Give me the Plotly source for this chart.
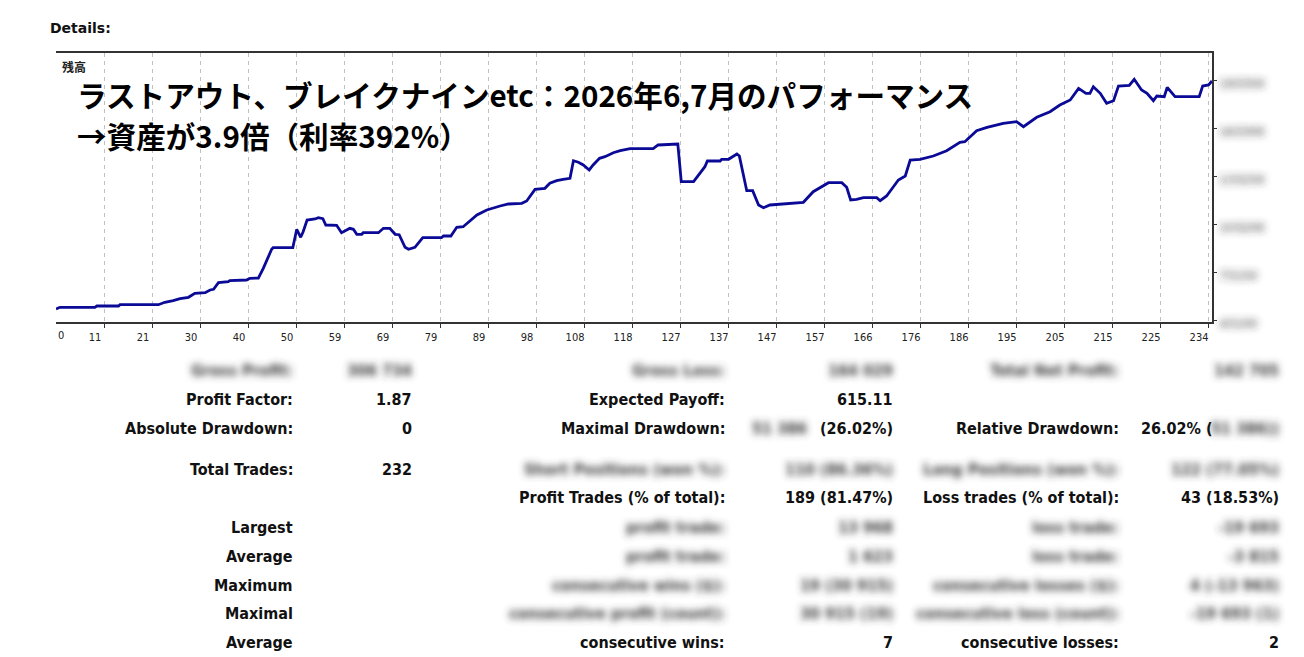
import plotly.graph_objects as go

# balance curve (trade number, balance)
trade_no = [0.0, 0.8, 7.9, 8.3, 12.7, 13.0, 20.8, 22.1, 23.8, 25.2,
            26.9, 28.2, 30.3, 31.3, 32.0, 33.0, 35.0, 35.3, 38.7, 39.4,
            41.1, 42.1, 43.8, 44.1, 48.1, 48.5, 48.9, 49.7, 50.2, 51.0,
            52.6, 53.3, 54.2, 54.8, 57.0, 58.0, 59.7, 60.4, 61.1, 62.1,
            62.4, 65.5, 66.5, 67.8, 68.9, 69.7, 70.9, 71.6, 72.9, 74.5,
            78.3, 78.7, 80.2, 81.4, 82.7, 85.5, 87.5, 90.2, 91.9, 94.6,
            95.6, 97.3, 99.3, 100.3, 101.7, 103.0, 104.4, 105.1, 106.1, 107.1,
            108.3, 109.1, 110.4, 111.5, 113.2, 114.6, 116.6, 121.3, 122.3, 126.3,
            127.0, 129.5, 131.8, 132.3, 134.9, 135.2, 136.6, 138.3, 138.8, 140.3,
            141.5, 142.7, 143.7, 145.0, 151.8, 153.8, 155.9, 156.9, 159.6, 160.6,
            161.4, 162.6, 164.0, 166.7, 167.4, 168.7, 171.1, 172.5, 173.5, 175.5,
            178.2, 180.9, 183.6, 184.6, 187.0, 189.1, 192.4, 195.1, 196.5, 199.2,
            201.9, 203.9, 206.0, 207.7, 209.2, 210.0, 210.7, 212.1, 213.4, 214.8,
            215.8, 218.0, 219.0, 220.5, 221.6, 222.9, 223.6, 225.1, 225.7, 227.3,
            232.2, 232.9, 234.1, 234.8]
balance = [50000, 51050, 51050, 51860, 51860, 52680, 52680, 54180, 55180, 56430,
           57310, 59820, 60190, 61880, 62320, 66450, 67080, 67700, 68140, 69210,
           69390, 75470, 87360, 88360, 88360, 95250, 99880, 94870, 98380, 105700,
           106330, 107140, 106520, 102570, 102390, 97750, 100510, 99880, 96750, 96750,
           97750, 97750, 100510, 100510, 96750, 96500, 88610, 87360, 88610, 94620,
           94620, 95690, 95690, 101130, 101510, 108830, 111960, 114470, 115720, 116160,
           117600, 124920, 125550, 128680, 130310, 131180, 131810, 142830, 141830, 140140,
           137010, 140140, 144330, 145330, 147840, 149090, 150340, 150340, 152660, 153280,
           129680, 129680, 139070, 142640, 142640, 143710, 143710, 147020, 145770, 124050,
           124050, 115100, 113400, 115100, 116790, 123420, 127620, 129060, 129060, 126180,
           118230, 118660, 119670, 119670, 117790, 120730, 130750, 133250, 143270, 143710,
           145770, 149090, 154350, 154720, 161610, 163740, 166240, 167240, 164110, 170000,
           173500, 177700, 180830, 188150, 185020, 185020, 189160, 185020, 178760, 180390,
           189590, 190030, 193790, 187090, 185020, 180390, 183330, 182900, 188780, 182900,
           182900, 189590, 190220, 192705]

x_tick_text = ["11", "21", "30", "40", "50", "59", "69", "79", "89", "98", "108", "118",
               "127", "137", "147", "157", "166", "176", "186", "195", "205", "215", "225", "234"]
y_tick_vals = [43100, 73150, 103200, 133250, 163300, 193350]

title_1 = "ラストアウト、ブレイクナインetc：2026年6,7月のパフォーマンス"
title_2 = "→資産が3.9倍（利率392%）"

# report table
col1_labels = ["Gross Profit:", "Profit Factor:", "Absolute Drawdown:", "Total Trades:", "",
               "Largest", "Average", "Maximum", "Maximal", "Average"]
col1_values = ["306 734", "1.87", "0", "232", "", "", "", "", "", ""]
col2_labels = ["Gross Loss:", "Expected Payoff:", "Maximal Drawdown:", "Short Positions (won %):",
               "Profit Trades (% of total):", "profit trade:", "profit trade:",
               "consecutive wins ($):", "consecutive profit (count):", "consecutive wins:"]
col2_values = ["164 029", "615.11", "51 386 (26.02%)", "110 (86.36%)", "189 (81.47%)",
               "13 968", "1 623", "19 (30 915)", "30 915 (19)", "7"]
col3_labels = ["Total Net Profit:", "", "Relative Drawdown:", "Long Positions (won %):",
               "Loss trades (% of total):", "loss trade:", "loss trade:",
               "consecutive losses ($):", "consecutive loss (count):", "consecutive losses:"]
col3_values = ["142 705", "", "26.02% (51 386)", "122 (77.05%)", "43 (18.53%)",
               "-19 693", "-3 815", "4 (-13 963)", "-19 693 (1)", "2"]
blurred_rows = [0, 3, 5, 6, 7, 8]   # rows hidden in the screenshot (cols 2 and 3)

# page geometry in px
W, H = 1304, 657
PL, PR, PT, PB = 56, 1212, 53, 322
row_y = [370, 399, 428, 469, 497, 527, 556, 585, 613, 642]
col_x = [295, 414, 727, 895, 1121, 1281]

PX_PER_BAL = 30050 / 48.0
y_lo = y_tick_vals[0] - 2 * PX_PER_BAL
y_hi = y_tick_vals[0] + (320 - PT) * PX_PER_BAL


def xp(px):
    return (px - PL) / (PR - PL)


def yp(py):
    return (PB - py) / (PB - PT)


TAB_FONT = dict(family="DejaVu Sans Condensed, DejaVu Sans", size=16, color="#111111", weight="bold")
annots = []
blur_idx = []


def cell(text, px, py, anchor="right", blur=False):
    if not text:
        return
    if blur:
        blur_idx.append(len(annots))
    annots.append(dict(text=text, xref="paper", yref="paper", x=xp(px), y=yp(py),
                       xanchor=anchor, yanchor="middle", showarrow=False,
                       font=dict(TAB_FONT, color="#3a3a3a") if blur else TAB_FONT))


for i in range(len(row_y)):
    yy = row_y[i]
    b = i in blurred_rows
    cell(col1_labels[i], col_x[0], yy, blur=(i == 0))
    cell(col1_values[i], col_x[1], yy, blur=(i == 0))
    cell(col2_labels[i], col_x[2], yy, blur=b)
    cell(col3_labels[i], col_x[4], yy, blur=b)
    if i == 2:
        num, pct = col2_values[i].split(" (")
        cell("(" + pct, col_x[3], yy)
        cell(num, 809, yy, blur=True)
        pct3, num3 = col3_values[i].split(" (")
        cell(pct3 + " (", 1139, yy, anchor="left")
        cell(num3 + ")", col_x[5], yy, blur=True)
    else:
        cell(col2_values[i], col_x[3], yy, blur=b)
        cell(col3_values[i], col_x[5], yy, blur=b)

# headings / chart texts
annots.append(dict(text="Details:", xref="paper", yref="paper", x=xp(48), y=yp(28),
                   xanchor="left", yanchor="middle", showarrow=False,
                   font=dict(family="DejaVu Sans", size=14, color="#111111", weight="bold")))
annots.append(dict(text="残高", xref="paper", yref="paper", x=xp(60), y=yp(67),
                   xanchor="left", yanchor="middle", showarrow=False,
                   font=dict(family="Noto Sans CJK JP", size=12, color="#222222", weight="bold")))
for t, yy in [(title_1, 94), (title_2, 135)]:
    annots.append(dict(text=t, xref="paper", yref="paper", x=xp(75), y=yp(yy),
                       xanchor="left", yanchor="middle", showarrow=False,
                       font=dict(family="Noto Sans CJK JP", size=29.6, color="#000000", weight="bold")))
annots.append(dict(text="0", xref="x", yref="paper", x=0, y=0, yshift=-5,
                   xanchor="left", yanchor="top", showarrow=False,
                   font=dict(family="DejaVu Sans Condensed, DejaVu Sans", size=11, color="#222222")))

fig = go.Figure()
fig.add_trace(go.Scatter(x=trade_no, y=balance, mode="lines", yaxis="y2",
                         line=dict(color="#0a0a96", width=2.8), hoverinfo="skip"))

grid = dict(showgrid=True, gridcolor="#c0c0c0", gridwidth=1, griddash="4px,4px")
fig.update_layout(
    width=W, height=H, autosize=False,
    margin=dict(l=PL, r=W - PR, t=PT, b=H - PB),
    paper_bgcolor="white", plot_bgcolor="white",
    showlegend=False,
    xaxis=dict(range=[0, 234.8], tickmode="array",
               tickvals=[9.75 * k for k in range(1, len(x_tick_text) + 1)],
               ticktext=x_tick_text, ticks="outside", ticklen=4, tickcolor="#333333",
               ticklabelshift=-9,
               tickfont=dict(family="DejaVu Sans Condensed, DejaVu Sans", size=11, color="#222222"),
               showline=True, linecolor="#333333", linewidth=1.5, mirror=True,
               zeroline=False, **grid),
    yaxis=dict(range=[y_lo, y_hi], tickmode="array", tickvals=y_tick_vals[1:],
               showticklabels=False, showline=True, linecolor="#333333", linewidth=1.5,
               mirror=True, zeroline=False, **grid),
    yaxis2=dict(range=[y_lo, y_hi], overlaying="y", side="right", tickmode="array",
                tickvals=y_tick_vals, ticktext=[str(v) for v in y_tick_vals],
                ticks="outside", ticklen=3, tickcolor="#333333", ticklabelshift=4,
                tickfont=dict(family="DejaVu Sans", size=12, color="#333333"),
                showgrid=False, zeroline=False, showline=True, linecolor="#333333",
                linewidth=1.5),
    annotations=annots,
)

# the screenshot has some numbers blurred out, mimic that with an svg blur
post = """
document.body.style.margin = '0';
var gd = document.querySelector('.js-plotly-plot');
var ns = 'http://www.w3.org/2000/svg';
var s = document.createElementNS(ns, 'svg');
s.setAttribute('width', '0'); s.setAttribute('height', '0');
s.style.position = 'absolute'; s.style.left = '0'; s.style.top = '0';
s.innerHTML = '<defs><filter id="soft" x="-30%" y="-100%" width="160%" height="300%">' +
              '<feGaussianBlur stdDeviation="3.6"/></filter></defs>';
document.body.appendChild(s);
var blurIdx = BLUR_IDX;
gd.querySelectorAll('g.annotation').forEach(function (a) {
  if (blurIdx.indexOf(+a.getAttribute('data-index')) >= 0) a.setAttribute('filter', 'url(#soft)');
});
gd.querySelectorAll('g.y2tick text').forEach(function (t) { t.setAttribute('filter', 'url(#soft)'); });
""".replace("BLUR_IDX", str(blur_idx))

fig.write_html("out.html", post_script=post, config={"displayModeBar": False})
